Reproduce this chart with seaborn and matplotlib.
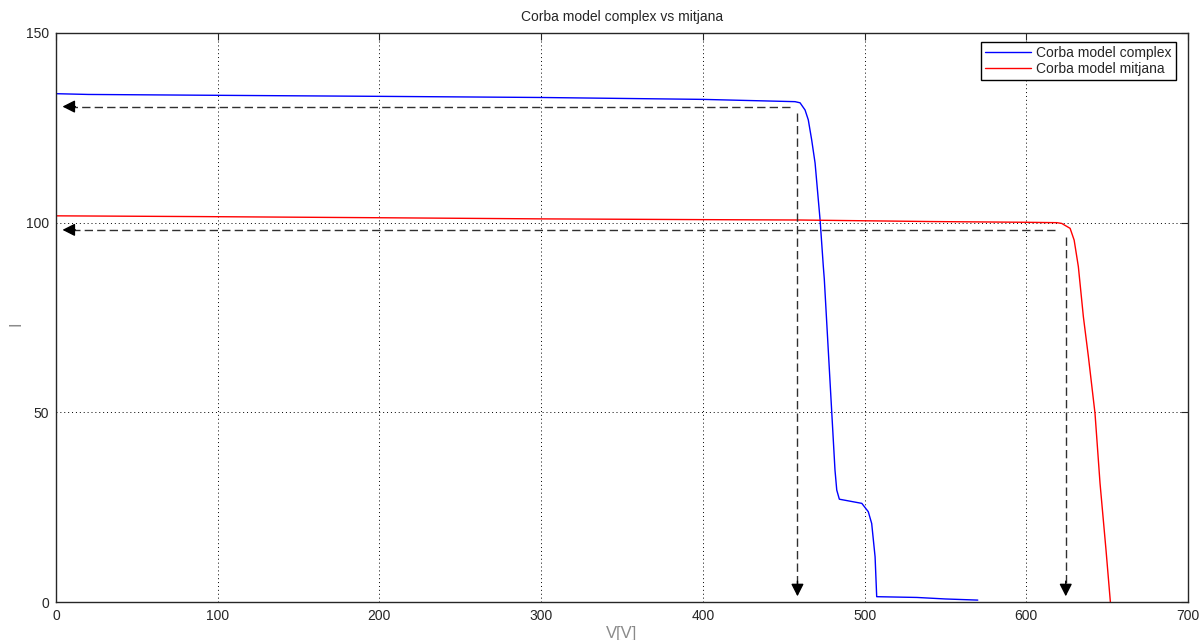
import matplotlib
matplotlib.use('Agg')
import matplotlib.pyplot as plt
import pandas as pd
import seaborn as sns

# --- Corba model complex (V, I) ---
v_complex = [0, 20, 90, 200, 300, 400, 457.0, 460.1, 463.2, 465.2, 467.3, 469.4, 471.4,
             472.5, 474.5, 475.1, 481.7, 482.8, 484.4, 498.3, 502.3, 504.4, 506.5, 507.5,
             532.3, 550, 570]
i_complex = [134.0, 133.8, 133.6, 133.3, 133.0, 132.5, 131.9, 131.6, 129.7, 127.1, 121.8,
             115.7, 106.0, 100.7, 88.4, 85.1, 34.8, 29.5, 27.1, 26.0, 23.8, 20.7, 11.9, 1.4,
             1.2, 0.8, 0.5]

# --- Corba model mitjana (V, I) ---
v_mitjana = [0, 90, 200, 300, 400, 460, 540, 600, 618.9, 621.9, 627.1, 629.6, 632.2,
             635.3, 638.4, 642.5, 645.6, 649.3, 652.0]
i_mitjana = [101.8, 101.6, 101.3, 101.0, 100.8, 100.7, 100.3, 100.1, 100.0, 99.8, 98.5,
             95.4, 88.4, 75.2, 64.7, 49.7, 31.3, 13.7, 0.0]

# --- Fletxes discontinues (punt de treball -> eixos) ---
h_arrow_i = [130.6, 98.1]     # fletxes horitzontals (nivell de corrent)
h_arrow_v0 = [454.0, 617.8]   # inici de les fletxes horitzontals
v_arrow_v = [458.5, 624.4]    # fletxes verticals (tensio)
v_arrow_i0 = [128.8, 96.3]    # inici de les fletxes verticals
arrow_tip_v = 4.0
arrow_tip_i = 1.5

df_complex = pd.DataFrame({'V': v_complex, 'I': i_complex})
df_mitjana = pd.DataFrame({'V': v_mitjana, 'I': i_mitjana})

sns.set_style('white')
plt.rcParams['font.family'] = ['Liberation Sans', 'DejaVu Sans']

fig = plt.figure(figsize=(12, 6.4), dpi=100)
ax = fig.add_axes([56 / 1200, 38 / 640, 1132 / 1200, 569 / 640])

sns.lineplot(data=df_complex, x='V', y='I', sort=False, color='#0000FF', lw=1.0,
             label='Corba model complex', ax=ax)
sns.lineplot(data=df_mitjana, x='V', y='I', sort=False, color='#FF0000', lw=1.0,
             label='Corba model mitjana', ax=ax)

# fletxes: linia discontinua + cap ple
dash = (0, (6, 3))
head = dict(arrowstyle='-|>,head_length=0.75,head_width=0.38', color='k', lw=1.0,
            mutation_scale=10, shrinkA=0, shrinkB=0)
for k in range(len(h_arrow_i)):
    # horitzontal
    ax.plot([h_arrow_v0[k], arrow_tip_v + 5], [h_arrow_i[k], h_arrow_i[k]],
            color='#303030', lw=1.0, linestyle=dash)
    ax.annotate('', xy=(arrow_tip_v, h_arrow_i[k]), xytext=(arrow_tip_v + 8, h_arrow_i[k]),
                arrowprops=head)
    # vertical
    ax.plot([v_arrow_v[k], v_arrow_v[k]], [v_arrow_i0[k], arrow_tip_i + 2.5],
            color='#303030', lw=1.0, linestyle=dash)
    ax.annotate('', xy=(v_arrow_v[k], arrow_tip_i), xytext=(v_arrow_v[k], arrow_tip_i + 4),
                arrowprops=head)

ax.set_xlim(0, 700)
ax.set_ylim(0, 150)
ax.set_xticks(range(0, 701, 100))
ax.set_yticks([0, 50, 100, 150])
ax.grid(True, color='k', linestyle=(0, (1, 3)), linewidth=0.7)
ax.tick_params(direction='in', length=5, top=True, right=True, labelsize=10,
               color='#262626', labelcolor='#262626', pad=5)
for s in ax.spines.values():
    s.set_color('#262626')
    s.set_linewidth(1.0)

ax.set_title('Corba model complex vs mitjana', fontsize=10, pad=9)
ax.set_xlabel('V[V]', fontsize=12, color='#8a8a8a')
ax.xaxis.set_label_coords(0.5, -0.043)
ax.set_ylabel('I', fontsize=12, color='#8a8a8a')
ax.yaxis.set_label_coords(-0.029, 0.49)

leg = ax.legend(loc='upper right', bbox_to_anchor=((1176 - 56) / 1132, (602 - 42) / 569),
                borderaxespad=0, fontsize=10, frameon=True, fancybox=False,
                edgecolor='k', framealpha=1, handlelength=3.3, labelspacing=0.1,
                borderpad=0.3, handletextpad=0.4)
leg.get_frame().set_linewidth(1.0)

plt.savefig('out.png', dpi=100)
